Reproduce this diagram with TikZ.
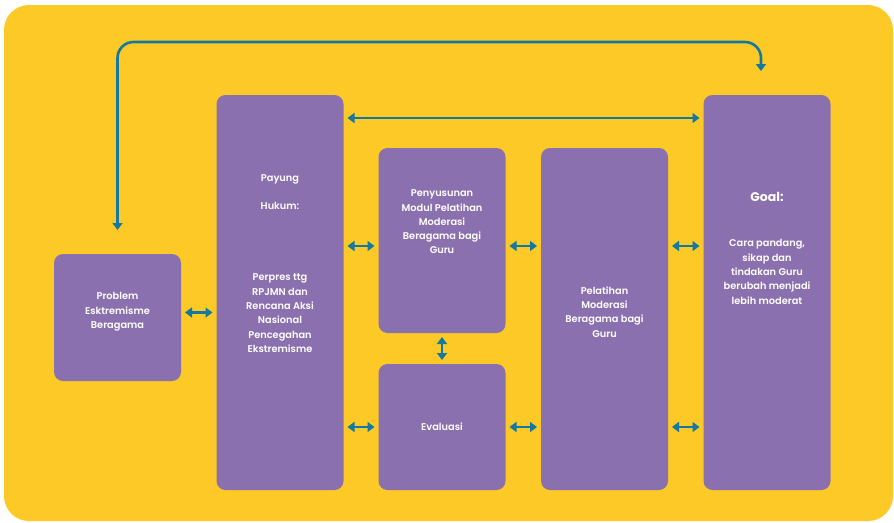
\documentclass[tikz,border=0pt]{standalone}
\usepackage{fontspec}
\setmainfont{Poppins}[UprightFont=* SemiBold, BoldFont=* Bold]
\usetikzlibrary{arrows.meta}
\definecolor{bgyellow}{HTML}{FCC926}
\definecolor{boxpurple}{HTML}{8B70B0}
\definecolor{linkblue}{HTML}{1479A0}
\begin{document}
\begin{tikzpicture}[x=1pt, y=-1pt]
\tikzset{ box/.style={fill=boxpurple, rounded corners=9pt, inner sep=0pt, outer sep=0pt},
          txt/.style={text=white, align=center, font=\fontsize{9.8}{14.3}\selectfont, inner sep=0pt},
          link/.style={draw=linkblue, line width=2.6pt, {Triangle[width=10pt,length=7pt]}-{Triangle[width=10pt,length=7pt]}, shorten <=4pt, shorten >=4pt},
        }

%\draw [lightgray, dashed](0,0) grid[step=50] (894,522);

\useasboundingbox (0,0) rectangle (894,522);
\fill [white] (0,0) rectangle (894,522);
\fill [bgyellow, rounded corners=25pt] (4,5) rectangle (893,521);

\node [box, minimum width=127pt, minimum height=127pt] (P) at (117.5,317.5) {};
\node [box, minimum width=127pt, minimum height=395pt] (H) at (280,292.5) {};
\node [box, minimum width=127pt, minimum height=185pt] (M) at (442,240.5) {};
\node [box, minimum width=127pt, minimum height=126pt] (E) at (442,427) {};
\node [box, minimum width=127pt, minimum height=342pt] (T) at (604.5,319) {};
\node [box, minimum width=127pt, minimum height=395pt] (G) at (767,292.5) {};

\node [txt] (Ptxt) at (117.5,312) {Problem\\Esktremisme\\Beragama};
\node [txt, anchor=north] (Htxt) at (280,174) {Payung\\[14.3pt]Hukum:\\[57pt]Perpres ttg\\RPJMN dan\\Rencana Aksi\\Nasional\\Pencegahan\\Ekstremisme};
\node [txt] (Mtxt) at (442,222) {Penyusunan\\Modul Pelatihan\\Moderasi\\Beragama bagi\\Guru};
\node [txt] (Etxt) at (442,427) {Evaluasi};
\node [txt] (Ttxt) at (604.5,312) {Pelatihan\\Moderasi\\Beragama bagi\\Guru};
\node [txt, anchor=north, font=\fontsize{12.5}{14.3}\selectfont\bfseries] (Gtitle) at (767,192) {Goal:};
\node [txt] (Gtxt) at (767,272) {Cara pandang,\\sikap dan\\tindakan Guru\\berubah menjadi\\lebih moderat};

\coordinate (top) at (0,42);
\coordinate (hi) at (0,118);
\coordinate (r1) at (0,246);
\coordinate (r2) at (0,427);

\draw [link, rounded corners=16pt, shorten <=24pt, shorten >=24pt] (P.north) -- (P.north |- top) -| ([xshift=-6pt]G.north);
\draw [link] (H.east |- hi) -- (G.west |- hi);
\draw [link] ([yshift=5pt]P.east) -- ([yshift=5pt]P.east -| H.west);

\draw [link] (H.east |- r1) -- (M.west |- r1);
\draw [link] (M.east |- r1) -- (T.west |- r1);
\draw [link] (T.east |- r1) -- (G.west |- r1);
\draw [link] (M.south) -- (E.north);
\draw [link] (H.east |- r2) -- (E.west);
\draw [link] (E.east) -- (T.west |- r2);
\draw [link] (T.east |- r2) -- (G.west |- r2);

\end{tikzpicture}
\end{document}
